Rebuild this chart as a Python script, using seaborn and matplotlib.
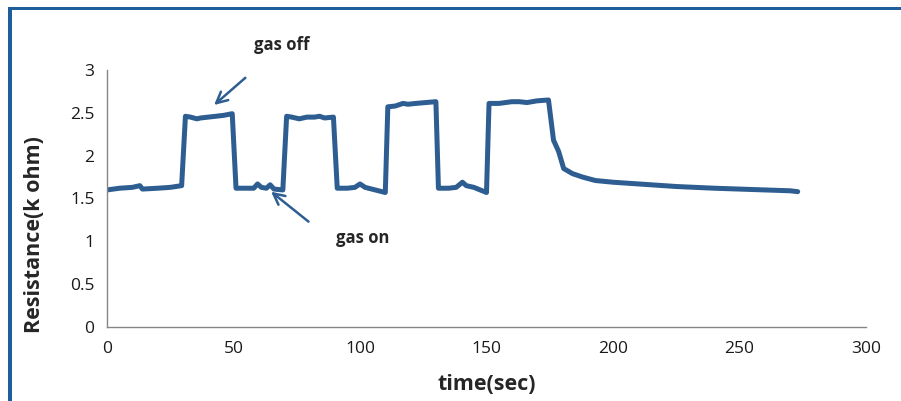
import matplotlib
matplotlib.use("Agg")
import matplotlib.pyplot as plt
import seaborn as sns
import pandas as pd
from matplotlib.patches import Rectangle

time_sec = [0, 5, 10, 13, 14, 20, 25, 29.5, 31, 33, 35.5, 37, 40, 43, 46, 49.5,
            51, 55, 58, 59.5, 61, 63, 64.5, 66, 69.5,
            71, 73, 76, 79, 82, 84, 86, 89.5,
            91, 95, 98, 100, 102, 106, 110,
            111, 114, 117, 119, 122, 126, 130,
            131, 135, 138, 140.5, 142, 145, 150,
            151, 155, 160, 163, 166, 170, 174.5,
            176.5, 178.5, 179.5, 180.5, 184, 188, 193, 200, 210, 225, 240, 250, 260, 270, 273]
resistance = [1.60, 1.62, 1.63, 1.65, 1.61, 1.62, 1.63, 1.65, 2.46, 2.45, 2.43, 2.44, 2.45, 2.46, 2.47, 2.49,
              1.62, 1.62, 1.62, 1.67, 1.63, 1.62, 1.66, 1.61, 1.60,
              2.46, 2.45, 2.43, 2.45, 2.45, 2.46, 2.44, 2.45,
              1.62, 1.62, 1.63, 1.67, 1.63, 1.60, 1.57,
              2.57, 2.58, 2.61, 2.60, 2.61, 2.62, 2.63,
              1.62, 1.62, 1.63, 1.69, 1.65, 1.63, 1.57,
              2.61, 2.61, 2.63, 2.63, 2.62, 2.64, 2.65,
              2.18, 2.05, 1.95, 1.85, 1.79, 1.75, 1.71, 1.69, 1.67, 1.64, 1.62, 1.61, 1.60, 1.59, 1.58]
x_ticks = [0, 50, 100, 150, 200, 250, 300]
y_ticks = [0, 0.5, 1, 1.5, 2, 2.5, 3]
y_tick_labels = ["0", "0.5", "1", "1.5", "2", "2.5", "3"]

df = pd.DataFrame({"time": time_sec, "R": resistance})

sns.set_style("white")
plt.rcParams['font.family'] = ['Open Sans', 'DejaVu Sans']

line_color = "#2E5E91"
axis_gray = "#868686"

fig = plt.figure(figsize=(9.01, 4.01), dpi=100)
ax = fig.add_axes([107/901, 1 - 327/401, (866 - 107)/901, (327 - 70)/401])

sns.lineplot(data=df, x="time", y="R", ax=ax, color=line_color, linewidth=3.6,
             estimator=None, sort=False)

ax.set_xlim(0, 300)
ax.set_ylim(0, 3)
ax.set_xticks(x_ticks)
ax.set_xticklabels([str(v) for v in x_ticks])
ax.set_yticks(y_ticks)
ax.set_yticklabels(y_tick_labels)
for s in ["top", "right"]:
    ax.spines[s].set_visible(False)
for s in ["left", "bottom"]:
    ax.spines[s].set_color(axis_gray)
    ax.spines[s].set_linewidth(1.0)
ax.tick_params(axis="both", direction="out", length=4, width=1, color=axis_gray,
               labelsize=12.5, labelcolor="#1a1a1a", pad=5)
ax.tick_params(axis="x", pad=6)

ax.set_xlabel("time(sec)", fontsize=15.5, fontweight="bold", labelpad=12)
ax.set_ylabel("Resistance(k ohm)", fontsize=15.5, fontweight="bold")
ax.yaxis.set_label_coords(-0.082, 0.36)

ax.annotate("", xy=(41.5, 2.57), xytext=(55.5, 2.93),
            arrowprops=dict(arrowstyle="->,head_length=0.8,head_width=0.4", color=line_color, lw=1.8))
ax.annotate("", xy=(64, 1.60), xytext=(80.5, 1.21),
            arrowprops=dict(arrowstyle="->,head_length=0.8,head_width=0.4", color=line_color, lw=1.8))
ax.text(69, 3.29, "gas off", fontsize=12, fontweight="bold", ha="center", va="center", clip_on=False)
ax.text(101, 1.04, "gas on", fontsize=12, fontweight="bold", ha="center", va="center")

# blue frame
border = "#1F5E9C"
fig.add_artist(Rectangle((8/901, 0), 4/901, 1 - 7/401, transform=fig.transFigure,
                         color=border, lw=0))
fig.add_artist(Rectangle((8/901, 1 - 10/401), 1, 3/401, transform=fig.transFigure,
                         color=border, lw=0))

fig.savefig("out.png", dpi=100)
